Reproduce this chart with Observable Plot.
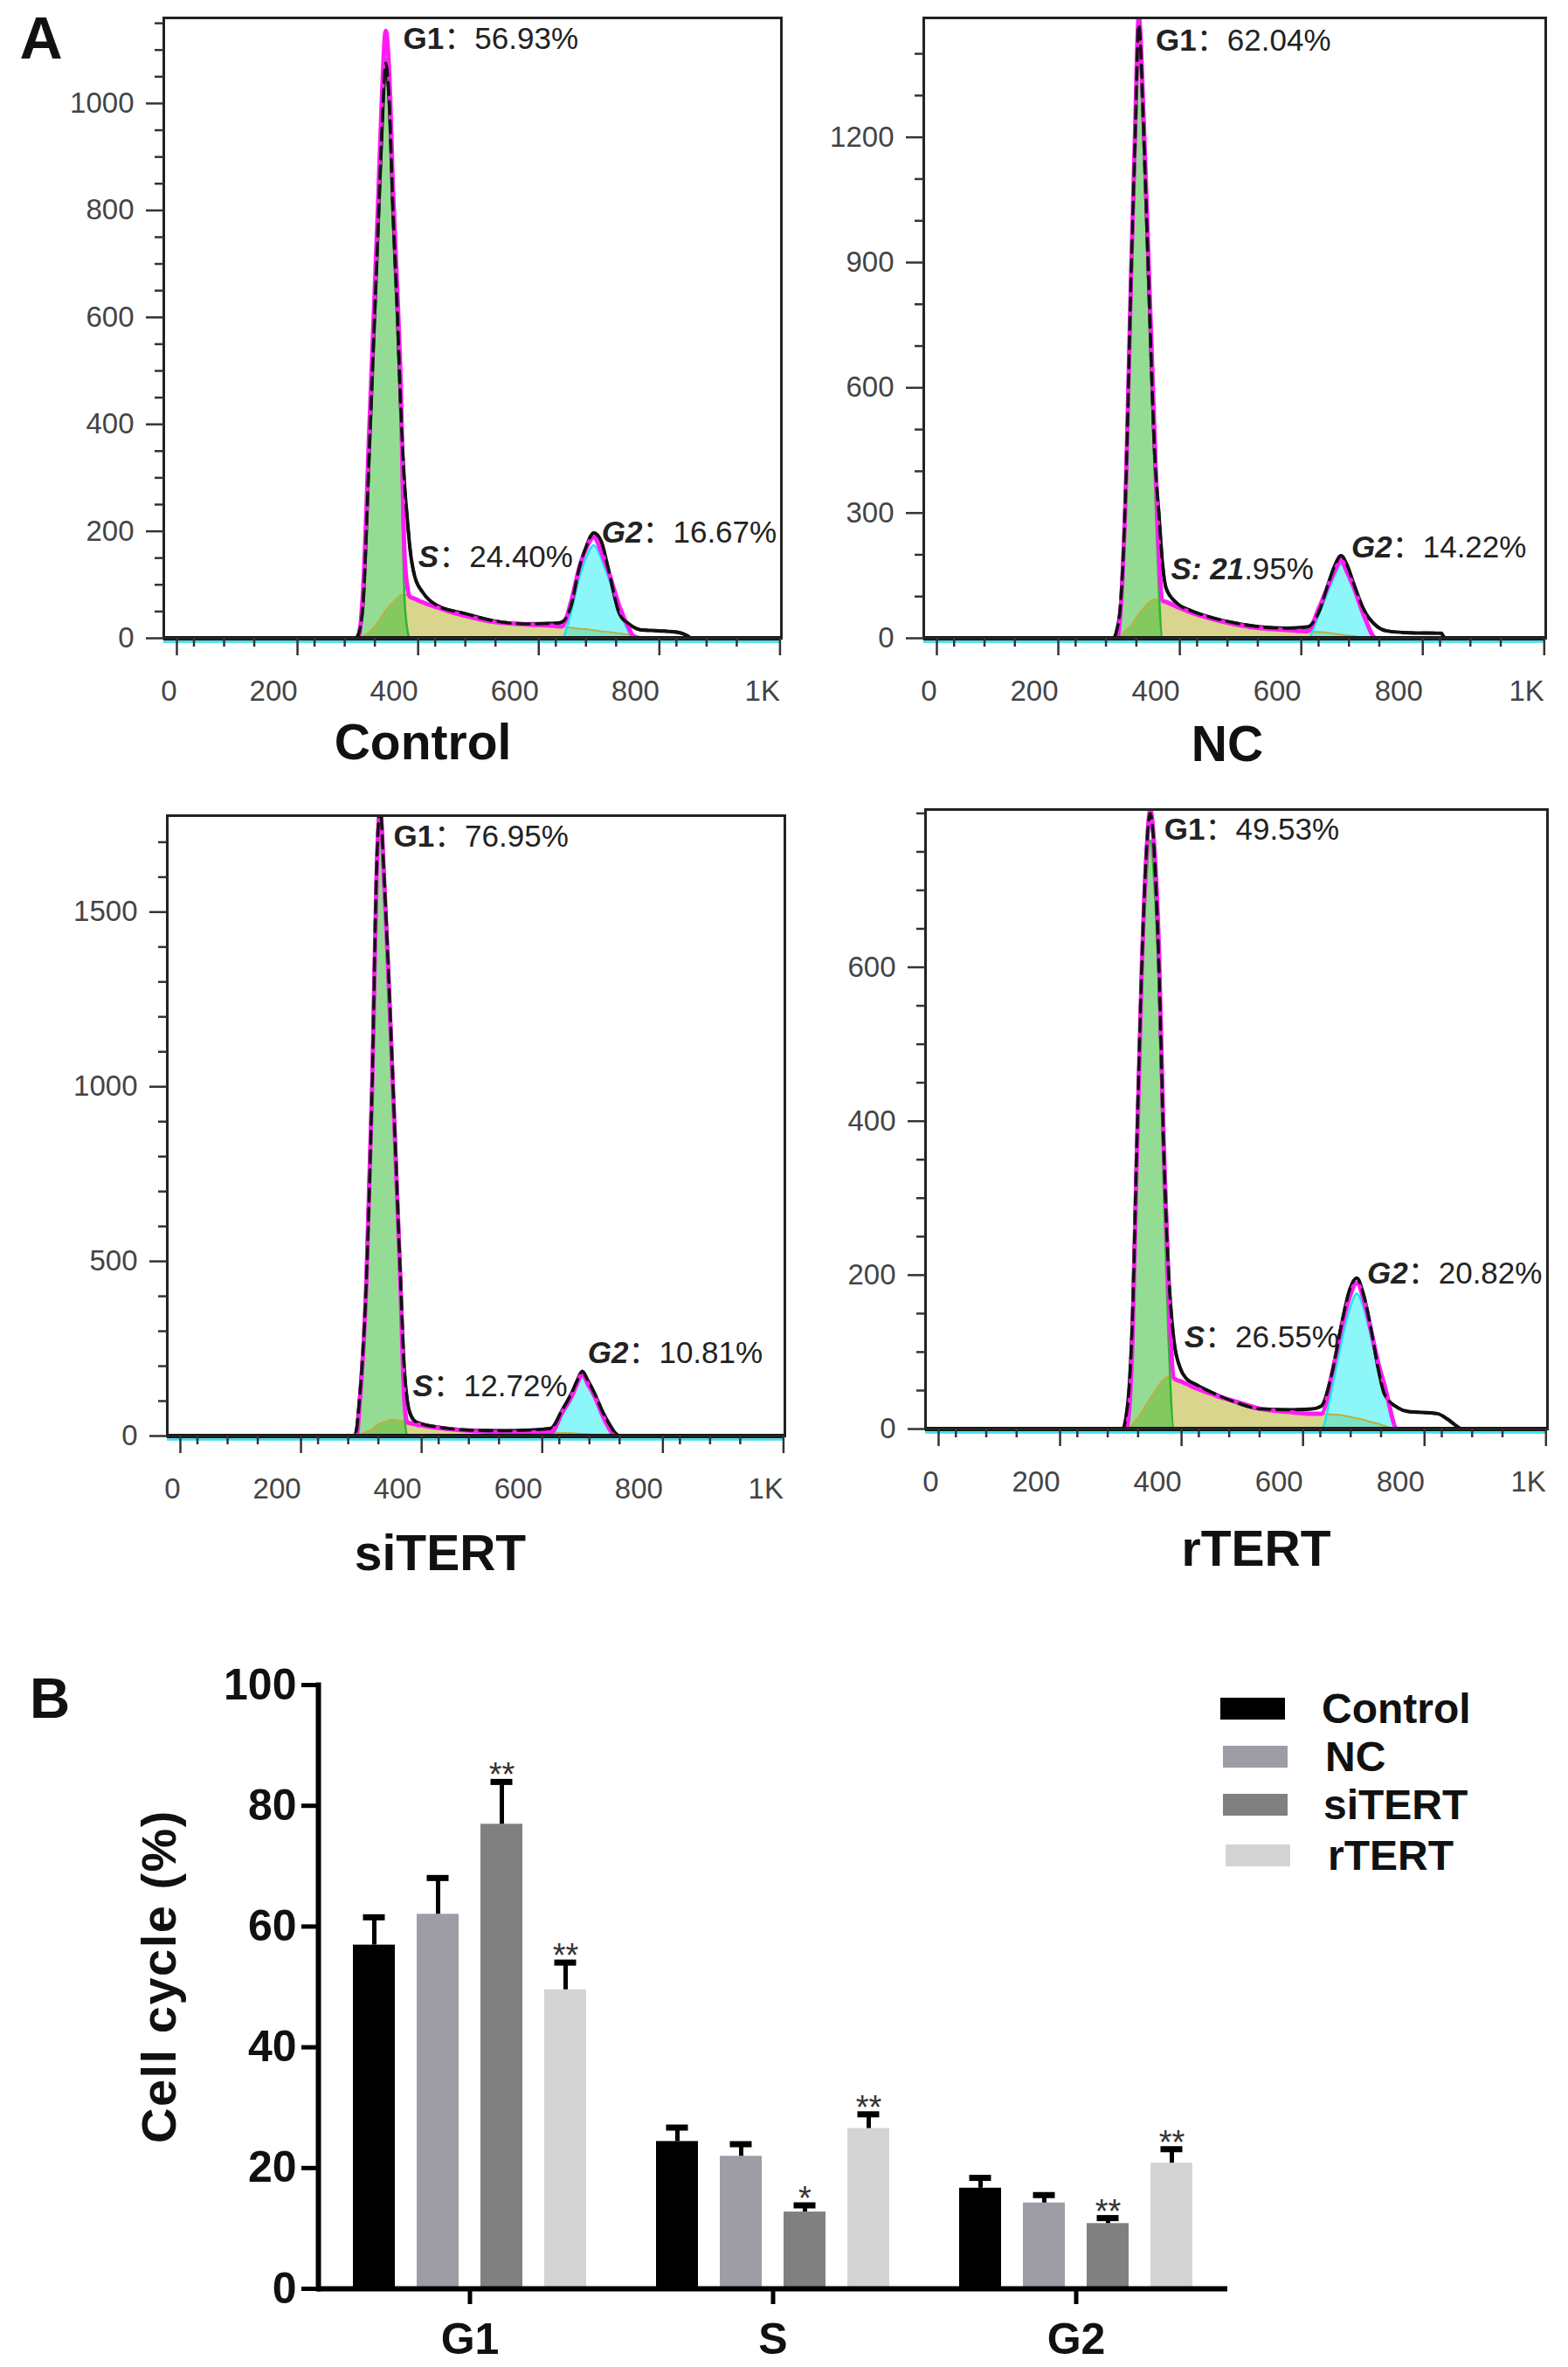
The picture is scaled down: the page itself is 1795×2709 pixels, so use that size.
<!DOCTYPE html>
<html>
<head>
<meta charset="utf-8">
<script src="https://cdn.jsdelivr.net/npm/d3@7"></script>
<script src="https://cdn.jsdelivr.net/npm/@observablehq/plot@0.6"></script>
<style>
  html, body { margin: 0; padding: 0; background: #fff; }
  #root { position: relative; width: 1795px; height: 2709px; overflow: hidden; background: #fff;
          font-family: "Liberation Sans", Arial, "Noto Sans CJK SC", sans-serif; color: #111; }
  .box { position: absolute; }
  .ctext { position: absolute; transform: translate(-50%, -50%); white-space: nowrap; font-weight: bold; line-height: 1; }
  .ltext { position: absolute; transform: translate(0, -50%); white-space: nowrap; font-weight: bold; line-height: 1; }
  .sw { position: absolute; }
</style>
</head>
<body>
<div id="root"></div>
<script>
// ---------------- DATA : panel A (flow cytometry histograms) ----------------
const xMajor = [0, 200, 400, 600, 800, 1000];
const xMinor = [50, 100, 150, 250, 300, 350, 450, 500, 550, 650, 700, 750, 850, 900, 950];

// Control
const ctrlX    = [0, 318, 322, 330, 341, 348, 355, 362, 368, 374, 380, 387, 393, 399, 404, 408, 416, 430, 452, 500, 550, 600, 650, 660, 675, 689, 700, 713, 725, 737, 756, 771, 777, 790, 820, 853, 868, 875, 1024];
const ctrlG1   = [0, 0, 0, 78, 387, 580, 774, 980, 1084, 990, 774, 580, 387, 78, 15, 0, 0, 0, 0, 0, 0, 0, 0, 0, 0, 0, 0, 0, 0, 0, 0, 0, 0, 0, 0, 0, 0, 0, 0];
const ctrlS    = [0, 0, 0, 3, 12, 20, 30, 42, 52, 60, 67, 75, 81, 82, 80, 78, 74, 67, 58, 42, 30, 26, 23, 22, 20, 18, 17, 15, 13, 12, 9, 7, 6, 0, 0, 0, 0, 0, 0];
const ctrlG2   = [0, 0, 0, 0, 0, 0, 0, 0, 0, 0, 0, 0, 0, 0, 0, 0, 0, 0, 0, 0, 0, 0, 0, 0, 47, 114, 150, 174, 150, 114, 49, 12, 0, 0, 0, 0, 0, 0, 0];
const ctrlData = [0, 0, 5, 60, 360, 560, 760, 960, 1075, 1000, 800, 620, 430, 290, 220, 170, 116, 85, 62, 46, 32, 27, 28, 30, 60, 132, 170, 197, 182, 130, 45, 27, 22, 16, 14, 11, 5, 0, 0];
const ctrlYMajor = [0, 200, 400, 600, 800, 1000];
const ctrlYMinor = [50, 100, 150, 250, 300, 350, 450, 500, 550, 650, 700, 750, 850, 900, 950, 1050, 1100, 1150];
const ctrlLabels = [
  { x: 397, y: 1120, parts: [["b", "G1"], ["r", "：56.93%"]] },
  { x: 422, y: 152,  parts: [["bi", "S"], ["r", "：24.40%"]] },
  { x: 726, y: 198,  parts: [["bi", "G2"], ["r", "：16.67%"]] }
];

// NC
const ncX    = [0, 312, 318, 324, 333, 341, 348, 354, 362, 370, 381, 387, 393, 399, 416, 440, 473, 514, 555, 597, 632, 650, 667, 677, 687, 697, 708, 724, 745, 761, 800, 852, 858, 1024];
const ncG1   = [0, 0, 0, 60, 352, 822, 1174, 1430, 1174, 822, 352, 117, 0, 0, 0, 0, 0, 0, 0, 0, 0, 0, 0, 0, 0, 0, 0, 0, 0, 0, 0, 0, 0, 0];
const ncS    = [0, 0, 0, 5, 20, 30, 45, 58, 72, 85, 93, 92, 90, 87, 76, 62, 47, 33, 24, 20, 17, 15, 13, 11, 9, 7, 5, 2, 0, 0, 0, 0, 0, 0];
const ncG2   = [0, 0, 0, 0, 0, 0, 0, 0, 0, 0, 0, 0, 0, 0, 0, 0, 0, 0, 0, 0, 0, 55, 117, 152, 178, 152, 117, 55, 0, 0, 0, 0, 0, 0];
const ncData = [0, 0, 20, 80, 380, 850, 1200, 1470, 1220, 870, 420, 300, 180, 120, 85, 66, 50, 36, 27, 24, 27, 62, 135, 175, 198, 175, 130, 70, 30, 18, 13, 12, 0, 0];
const ncYMajor = [0, 300, 600, 900, 1200];
const ncYMinor = [100, 200, 400, 500, 700, 800, 1000, 1100, 1300, 1400];
const ncLabels = [
  { x: 382, y: 1432, parts: [["b", "G1"], ["r", "：62.04%"]] },
  { x: 407, y: 164,  parts: [["bi", "S: 21"], ["r", ".95%"]] },
  { x: 704, y: 217,  parts: [["bi", "G2"], ["r", "：14.22%"]] }
];

// siTERT
const siX    = [0, 310, 314, 318, 330, 340, 347, 353, 359, 366, 373, 386, 393, 398, 405, 413, 455, 513, 560, 600, 636, 655, 671, 680, 688, 697, 709, 721, 735, 742, 752, 1024];
const siG1   = [0, 0, 0, 65, 423, 998, 1572, 1760, 1572, 1300, 998, 423, 65, 0, 0, 0, 0, 0, 0, 0, 0, 0, 0, 0, 0, 0, 0, 0, 0, 0, 0, 0];
const siS    = [0, 0, 0, 3, 12, 20, 30, 36, 40, 44, 47, 44, 41, 39, 36, 33, 22, 14, 11, 10, 10, 9, 8, 7, 6, 5, 4, 2, 0, 0, 0, 0];
const siG2   = [0, 0, 0, 0, 0, 0, 0, 0, 0, 0, 0, 0, 0, 0, 0, 0, 0, 0, 0, 0, 0, 60, 108, 145, 172, 145, 108, 60, 15, 0, 0, 0];
const siData = [0, 0, 20, 90, 440, 1030, 1620, 1800, 1620, 1360, 1060, 480, 190, 100, 55, 40, 24, 16, 15, 17, 22, 75, 125, 160, 185, 160, 120, 72, 28, 10, 0, 0];
const siYMajor = [0, 500, 1000, 1500];
const siYMinor = [100, 200, 300, 400, 600, 700, 800, 900, 1100, 1200, 1300, 1400, 1600, 1700];
const siLabels = [
  { x: 375, y: 1715, parts: [["b", "G1"], ["r", "：76.95%"]] },
  { x: 407, y: 142,  parts: [["bi", "S"], ["r", "：12.72%"]] },
  { x: 697, y: 236,  parts: [["bi", "G2"], ["r", "：10.81%"]] }
];

// rTERT
const rX    = [0, 325, 330, 335, 341, 347, 356, 363, 370, 377, 384, 392, 400, 409, 420, 429, 445, 470, 487, 510, 553, 600, 636, 652, 669, 686, 698, 710, 722, 734, 745, 756, 777, 793, 843, 859, 876, 882, 1024];
const rG1   = [0, 0, 0, 20, 117, 313, 574, 704, 765, 704, 574, 313, 117, 0, 0, 0, 0, 0, 0, 0, 0, 0, 0, 0, 0, 0, 0, 0, 0, 0, 0, 0, 0, 0, 0, 0, 0, 0, 0];
const rS    = [0, 0, 0, 2, 6, 12, 22, 31, 40, 48, 57, 64, 68, 66, 62, 59, 53, 46, 41, 36, 26, 22, 20, 20, 19, 18, 16, 14, 12, 9, 7, 4, 0, 0, 0, 0, 0, 0, 0];
const rG2   = [0, 0, 0, 0, 0, 0, 0, 0, 0, 0, 0, 0, 0, 0, 0, 0, 0, 0, 0, 0, 0, 0, 0, 0, 52, 117, 155, 176, 155, 117, 80, 52, 0, 0, 0, 0, 0, 0, 0];
const rData = [0, 0, 15, 50, 150, 340, 600, 740, 800, 745, 610, 370, 205, 115, 78, 66, 58, 48, 42, 35, 26, 25, 26, 30, 72, 140, 180, 196, 172, 128, 80, 45, 28, 23, 20, 13, 3, 0, 0];
const rYMajor = [0, 200, 400, 600];
const rYMinor = [50, 100, 150, 250, 300, 350, 450, 500, 550, 650, 700, 750, 800];
const rLabels = [
  { x: 393, y: 779, parts: [["b", "G1"], ["r", "：49.53%"]] },
  { x: 426, y: 119, parts: [["bi", "S"], ["r", "：26.55%"]] },
  { x: 727, y: 202, parts: [["bi", "G2"], ["r", "：20.82%"]] }
];

// ---------------- DATA : panel B (bar chart) ----------------
const phases = ["G1", "S", "G2"];
const groups = ["Control", "NC", "siTERT", "rTERT"];
const groupColors = ["#000000", "#9e9da6", "#808080", "#d4d4d4"];
const meanControl = [56.93, 24.40, 16.67];
const meanNC      = [62.04, 21.95, 14.22];
const meanSiTERT  = [76.95, 12.72, 10.81];
const meanRTERT   = [49.53, 26.55, 20.82];
const errControl  = [4.6, 2.3, 1.7];
const errNC       = [6.0, 2.0, 1.3];
const errSiTERT   = [7.0, 1.1, 0.9];
const errRTERT    = [4.5, 2.35, 2.3];
const sigControl  = ["", "", ""];
const sigNC       = ["", "", ""];
const sigSiTERT   = ["**", "*", "**"];
const sigRTERT    = ["**", "**", "**"];
const barYTicks   = [0, 20, 40, 60, 80, 100];

// ---------------- RENDERING ----------------
const FONT = "'Liberation Sans', Arial, 'Noto Sans CJK SC', sans-serif";
const root = document.getElementById("root");

function place(el, left, top) {
  const d = document.createElement("div");
  d.className = "box";
  d.style.left = left + "px";
  d.style.top = top + "px";
  d.appendChild(el);
  root.appendChild(d);
}
function centerText(txt, cx, cy, size, cls = "ctext", extra = "") {
  const d = document.createElement("div");
  d.className = cls;
  d.textContent = txt;
  d.style.left = cx + "px";
  d.style.top = cy + "px";
  d.style.fontSize = size + "px";
  if (extra) d.style.cssText += extra;
  root.appendChild(d);
  return d;
}

function styleLabels(svg) {
  d3.select(svg).selectAll("text").each(function () {
    const t = this.textContent;
    if (!t.includes("~")) return;
    const sel = d3.select(this);
    sel.text(null);
    t.split("|").forEach(seg => {
      const i = seg.indexOf("~");
      const st = seg.slice(0, i), tx = seg.slice(i + 1);
      const ts = sel.append("tspan").text(tx);
      if (st.includes("b")) ts.attr("font-weight", "bold");
      if (st.includes("i")) ts.attr("font-style", "italic");
    });
  });
}

function drawHist(p) {
  const rows = p.x.map((x, i) => ({
    x, g1: p.g1[i], s: p.s[i], g2: p.g2[i], data: p.data[i],
    fit: p.g1[i] + p.s[i] + p.g2[i]
  }));
  const lab = d => d.parts.map(q => q[0] + "~" + q[1]).join("|");
  const svg = Plot.plot({
    width: p.w, height: p.h,
    marginLeft: p.mL, marginRight: p.mR, marginTop: p.mT, marginBottom: p.mB,
    x: { domain: [0, 1024], axis: null },
    y: { domain: [0, p.ymax], axis: null },
    style: { fontFamily: FONT, background: "transparent", overflow: "visible" },
    marks: [
      Plot.areaY(rows, { x: "x", y: "s", curve: "monotone-x", fill: "#d9d58c", clip: true }),
      Plot.areaY(rows, { x: "x", y: "g1", curve: "monotone-x", fill: "#3cc03c", fillOpacity: 0.55, clip: true }),
      Plot.areaY(rows, { x: "x", y: "g2", curve: "monotone-x", fill: "#30eef2", fillOpacity: 0.55, clip: true }),
      Plot.lineY(rows, { x: "x", y: "s", curve: "monotone-x", stroke: "#bfae45", strokeWidth: 2, clip: true }),
      Plot.lineY(rows, { x: "x", y: "g1", curve: "monotone-x", stroke: "#2cb52c", strokeWidth: 2.5, clip: true }),
      Plot.lineY(rows, { x: "x", y: "g2", curve: "monotone-x", stroke: "#1fe3ec", strokeWidth: 2.5, clip: true }),
      Plot.lineY(rows, { x: "x", y: "data", curve: "monotone-x", stroke: "#111", strokeWidth: 4, clip: true }),
      Plot.lineY(rows, { x: "x", y: "fit", curve: "monotone-x", stroke: "#ff1cf4", strokeWidth: 5, clip: true }),
      Plot.lineY(rows, { x: "x", y: "data", curve: "monotone-x", stroke: "#111", strokeWidth: 3.5, strokeDasharray: "14,8", clip: true }),
      Plot.ruleY([0], { stroke: "#111", strokeWidth: 5 }),
      Plot.ruleY([0], { stroke: "#2fe0f0", strokeWidth: 2.5, dy: 4 }),
      Plot.frame({ stroke: "#222", strokeWidth: 3 }),
      Plot.axisY({ ticks: p.yMinor, tickSize: 10, tickFormat: () => "", stroke: "#333", strokeWidth: 2.5, label: null }),
      Plot.axisY({ ticks: p.yMajor, tickSize: 20, tickPadding: 14, fontSize: 33, fill: "#444", stroke: "#333", strokeWidth: 2.5, label: null, tickFormat: d => String(d) }),
      Plot.axisX({ ticks: xMinor, tickSize: 10, tickFormat: () => "", stroke: "#333", strokeWidth: 2.5, label: null }),
      Plot.axisX({ ticks: xMajor, tickSize: 20, tickPadding: 28, fontSize: 33, fill: "#444", stroke: "#333", strokeWidth: 2.5, label: null,
                   textAnchor: "end", dx: 15, tickFormat: d => d === 1000 ? "1K" : String(d) }),
      Plot.text(p.labels, { x: "x", y: "y", text: lab, textAnchor: "start", lineAnchor: "middle", fontSize: 35, fill: "#222" })
    ]
  });
  styleLabels(svg);
  place(svg, p.left, p.top);
  centerText(p.title, p.tx, p.ty, 57);
}

drawHist({ title: "Control", left: 0, top: 0, w: 900, h: 820, mL: 187, mR: 6, mT: 20, mB: 90, ymax: 1160,
  x: ctrlX, g1: ctrlG1, s: ctrlS, g2: ctrlG2, data: ctrlData, yMajor: ctrlYMajor, yMinor: ctrlYMinor, labels: ctrlLabels, tx: 484, ty: 849 });
drawHist({ title: "NC", left: 900, top: 0, w: 895, h: 820, mL: 157, mR: 26, mT: 20, mB: 90, ymax: 1486,
  x: ncX, g1: ncG1, s: ncS, g2: ncG2, data: ncData, yMajor: ncYMajor, yMinor: ncYMinor, labels: ncLabels, tx: 1405, ty: 851 });
drawHist({ title: "siTERT", left: 0, top: 900, w: 905, h: 830, mL: 191, mR: 7, mT: 33, mB: 87, ymax: 1776,
  x: siX, g1: siG1, s: siS, g2: siG2, data: siData, yMajor: siYMajor, yMinor: siYMinor, labels: siLabels, tx: 504, ty: 1777 });
drawHist({ title: "rTERT", left: 900, top: 900, w: 895, h: 830, mL: 159, mR: 24, mT: 26, mB: 95, ymax: 805,
  x: rX, g1: rG1, s: rS, g2: rG2, data: rData, yMajor: rYMajor, yMinor: rYMinor, labels: rLabels, tx: 1438, ty: 1772 });

// ---- Panel B ----
const barMeans = [meanControl, meanNC, meanSiTERT, meanRTERT];
const barErrs = [errControl, errNC, errSiTERT, errRTERT];
const barSigs = [sigControl, sigNC, sigSiTERT, sigRTERT];
const barRows = [];
phases.forEach((ph, j) => groups.forEach((g, k) => barRows.push({
  phase: ph, group: g, mean: barMeans[k][j], hi: barMeans[k][j] + barErrs[k][j], sig: barSigs[k][j]
})));

const barSvg = Plot.plot({
  width: 1795, height: 829,
  marginLeft: 364, marginRight: 390, marginTop: 48, marginBottom: 90,
  fx: { domain: phases, padding: 0, axis: null },
  x: { domain: groups, paddingInner: 0.347, paddingOuter: 0.534, axis: null },
  y: { domain: [0, 100], axis: null },
  color: { domain: groups, range: groupColors },
  style: { fontFamily: FONT, background: "transparent", overflow: "visible" },
  marks: [
    Plot.barY(barRows, { fx: "phase", x: "group", y: "mean", fill: "group" }),
    Plot.ruleX(barRows, { fx: "phase", x: "group", y1: "mean", y2: "hi", stroke: "#000", strokeWidth: 5 }),
    Plot.tickY(barRows, { fx: "phase", x: "group", y: "hi", stroke: "#000", strokeWidth: 7, insetLeft: 11.5, insetRight: 11.5 }),
    Plot.text(barRows.filter(d => d.sig), { fx: "phase", x: "group", y: "hi", text: "sig", lineAnchor: "bottom", dy: 5, fontSize: 38, fill: "#333" }),
    Plot.ruleY([0], { stroke: "#000", strokeWidth: 6 }),
    Plot.frame({ anchor: "left", facetAnchor: "left", stroke: "#000", strokeWidth: 6 }),
    Plot.axisY({ ticks: barYTicks, tickSize: 19, tickPadding: 6, fontSize: 50, fontWeight: "bold", fill: "#111", stroke: "#000", strokeWidth: 5, label: null }),
    Plot.axisFx({ anchor: "bottom", tickSize: 18, tickPadding: 21, fontSize: 50, fontWeight: "bold", fill: "#111", stroke: "#000", strokeWidth: 5, label: null })
  ]
});
place(barSvg, 0, 1880);

// Legend for B
const legendY = [1956, 2011, 2066, 2124];
const swatchX = [1397, 1400, 1400, 1403];
const labelX = [1513, 1517, 1515, 1520];
groups.forEach((g, i) => {
  const s = document.createElement("div");
  s.className = "sw";
  s.style.left = swatchX[i] + "px";
  s.style.top = (legendY[i] - 13) + "px";
  s.style.width = "74px";
  s.style.height = "25px";
  s.style.background = groupColors[i];
  root.appendChild(s);
  centerText(g, labelX[i], legendY[i], 48, "ltext");
});

// Axis title for B
centerText("Cell cycle (%)", 182, 2262, 56, "ctext", "transform: translate(-50%, -50%) rotate(-90deg); letter-spacing: 1.5px;");

// Panel letters
centerText("A", 47, 43, 68);
centerText("B", 57, 1944, 64);
</script>
</body>
</html>
